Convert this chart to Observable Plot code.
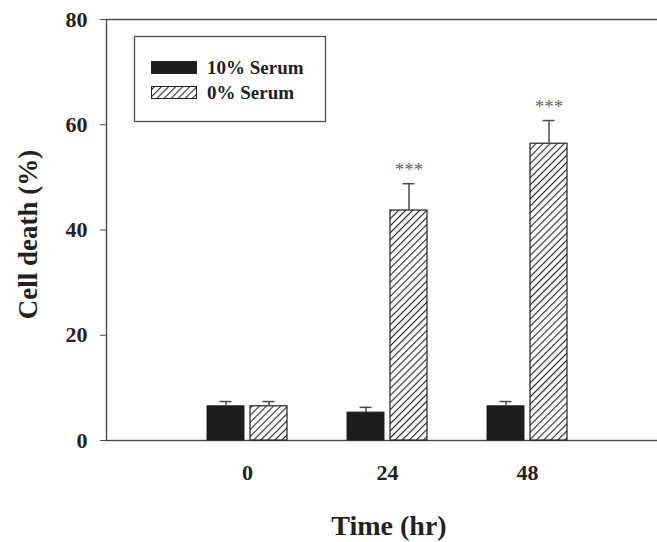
<!DOCTYPE html>
<html>
<head>
<meta charset="utf-8">
<script src="https://cdn.jsdelivr.net/npm/d3@7"></script>
<script src="https://cdn.jsdelivr.net/npm/@observablehq/plot@0.6"></script>
<style>
  html, body { margin: 0; padding: 0; background: #fff; }
  #chart svg { display: block; }
</style>
</head>
<body>
<div id="chart"></div>
<script>
// ---- data ----
const times = [0, 24, 48];
const seriesNames = ["10% Serum", "0% Serum"];
const serum10 = [6.5, 5.3, 6.5];
const serum10Err = [0.9, 1.0, 0.9];
const serum0 = [6.5, 43.7, 56.4];
const serum0Err = [0.9, 5.1, 4.4];
const significance = ["", "***", "***"];
const yTicks = [0, 20, 40, 60, 80];
const xLabel = "Time (hr)";
const yLabel = "Cell death (%)";

const black = times.map((t, i) => ({time: t, value: serum10[i], top: serum10[i] + serum10Err[i]}));
const hatched = times.map((t, i) => ({time: t, value: serum0[i], top: serum0[i] + serum0Err[i], sig: significance[i]}));

const font = "'Liberation Serif', 'Times New Roman', serif";
const axisColor = "#4a4a4a";

const svg = Plot.plot({
  width: 657,
  height: 542,
  marginTop: 19,
  marginBottom: 102,
  marginLeft: 106,
  marginRight: 0,
  style: {fontFamily: font, fontWeight: "bold", color: "#222", background: "#fff"},
  x: {type: "band", domain: times, range: [206.5, 566.5], paddingInner: 60 / 140, paddingOuter: 0},
  y: {domain: [0, 80]},
  marks: [
    Plot.frame({stroke: axisColor, strokeWidth: 1.4, insetRight: -4}),
    Plot.barY(black, {x: "time", y: "value", fill: "#1c1c1c", stroke: "#222", strokeWidth: 1, insetRight: 43}),
    Plot.barY(hatched, {x: "time", y: "value", fill: "url(#hatch)", stroke: "#222", strokeWidth: 1.2, insetLeft: 43}),
    Plot.ruleX(black, {x: "time", y1: "value", y2: "top", dx: -21.5, stroke: axisColor, strokeWidth: 1.5}),
    Plot.tickY(black, {x: "time", y: "top", insetLeft: 12.5, insetRight: 55.5, stroke: axisColor, strokeWidth: 1.5}),
    Plot.ruleX(hatched, {x: "time", y1: "value", y2: "top", dx: 21.5, stroke: axisColor, strokeWidth: 1.5}),
    Plot.tickY(hatched, {x: "time", y: "top", insetLeft: 55.5, insetRight: 12.5, stroke: axisColor, strokeWidth: 1.5}),
    Plot.text(hatched, {x: "time", y: "top", text: "sig", dx: 21.5, dy: -14, fill: "#666", fontSize: 19, fontWeight: "normal"}),
    Plot.axisY({ticks: yTicks, tickSize: 6, tickPadding: 13, fontSize: 22, stroke: axisColor, label: null}),
    Plot.axisX({tickSize: 0, tickPadding: 24, fontSize: 22, label: null}),
    Plot.text([xLabel], {frameAnchor: "bottom", textAnchor: "middle", dx: 7, dy: 94, fontSize: 28, fontWeight: "bold"}),
    Plot.text([yLabel], {frameAnchor: "left", textAnchor: "middle", rotate: -90, dx: -78, dy: 4.5, fontSize: 27, fontWeight: "bold"})
  ]
});

// hatch pattern for the 0% serum bars
const defs = d3.select(svg).insert("defs", ":first-child");
const pat = defs.append("pattern")
  .attr("id", "hatch")
  .attr("patternUnits", "userSpaceOnUse")
  .attr("width", 5)
  .attr("height", 5)
  .attr("patternTransform", "rotate(45)");
pat.append("rect").attr("width", 5).attr("height", 5).attr("fill", "#fff");
pat.append("line").attr("x1", 0).attr("y1", 0).attr("x2", 0).attr("y2", 5)
  .attr("stroke", "#222").attr("stroke-width", 2.2);

// legend box inside the plot area
const lg = d3.select(svg).append("g").attr("font-family", font).attr("font-weight", "bold")
  .attr("text-anchor", "start");
lg.append("rect").attr("x", 134.5).attr("y", 36.5).attr("width", 191).attr("height", 85)
  .attr("fill", "#fff").attr("stroke", axisColor).attr("stroke-width", 1.3);
const swatches = [{fill: "#1c1c1c", y: 61}, {fill: "url(#hatch)", y: 86}];
swatches.forEach((s, i) => {
  lg.append("rect").attr("x", 151.5).attr("y", s.y + 0.5).attr("width", 45).attr("height", 12)
    .attr("fill", s.fill).attr("stroke", "#222").attr("stroke-width", 1);
  lg.append("text").attr("x", 207).attr("y", s.y + 12.5).attr("font-size", 19)
    .attr("text-anchor", "start").attr("fill", "#222").text(seriesNames[i]);
});

document.getElementById("chart").appendChild(svg);
</script>
</body>
</html>
